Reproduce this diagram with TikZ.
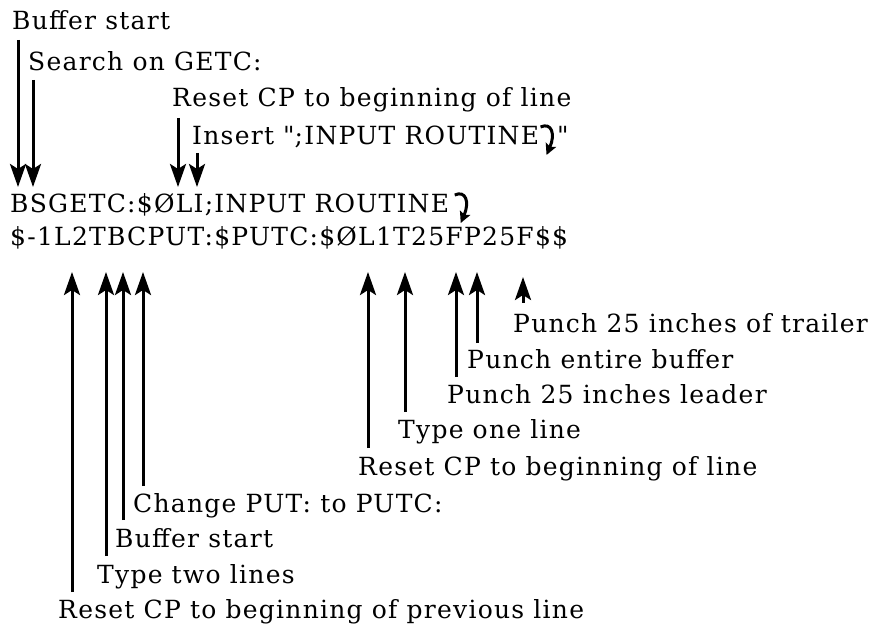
\documentclass[tikz,border=0pt]{standalone}
\usepackage{fontspec}
\setmainfont{DejaVu Serif}[LetterSpace=5]
\usetikzlibrary{arrows.meta}
% hand-drawn return mark of the listing
\newcommand\retarrow{\tikz[baseline=0pt,x=1pt,y=1pt]\draw[line width=3pt,
    -{Stealth[length=11pt,width=11pt,inset=2pt]}] (1,18) .. controls (12,23) and (16,11) .. (7,-10);}
\begin{document}
\begin{tikzpicture}[x=1pt,y=-1pt,
    note/.style={anchor=base west,inner sep=0pt,font=\fontsize{25}{29}\selectfont},
    cmd/.style={note},
    ptr/.style={line width=3pt,-{Stealth[length=23pt,width=16pt,inset=5pt]}}]
  \useasboundingbox (0,0) rectangle (878,628);
  % the two command lines
  \node[cmd] (cmdA) at (10,213) {BSGETC:\$ØLI;INPUT ROUTINE\,\retarrow};
  \node[cmd] (cmdB) at (10,246) {\$-1L2TBCPUT:\$PUTC:\$ØL1T25FP25F\$\$};
  % notes above, arrows pointing down
  \foreach \n/\lx/\ly/\t/\ax/\sy in {
      bufA/12/30/{Buffer start}/18/40,
      srch/28/71/{Search on GETC:}/33/80,
      rstA/172/107/{Reset CP to beginning of line}/178/118,
      ins/192/145/{Insert \textquotedbl;INPUT ROUTINE\retarrow\textquotedbl}/197/153}{
    \node[note] (\n) at (\lx,\ly) {\t};
    \coordinate (\n s) at (\ax,\sy);
    \coordinate (\n t) at (\ax,187);
    \draw[ptr] (\n s) -- (\n t);
  }
  % notes below, arrows pointing up
  \foreach \n/\lx/\ly/\t/\ax/\sy/\ty in {
      trl/513/332/{Punch 25 inches of trailer}/523/303/277,
      ent/467/368/{Punch entire buffer}/477/343/272,
      ldr/447/403/{Punch 25 inches leader}/456/377/272,
      one/398/438/{Type one line}/405/412/272,
      rstC/358/475/{Reset CP to beginning of line}/368/448/272,
      chg/133/512/{Change PUT: to PUTC:}/143/486/272,
      bufB/115/547/{Buffer start}/123/520/272,
      two/97/583/{Type two lines}/106/556/272,
      rstB/58/618/{Reset CP to beginning of previous line}/72/592/272}{
    \node[note] (\n) at (\lx,\ly) {\t};
    \coordinate (\n s) at (\ax,\sy);
    \coordinate (\n t) at (\ax,\ty);
    \draw[ptr] (\n s) -- (\n t);
  }
\end{tikzpicture}
\end{document}
